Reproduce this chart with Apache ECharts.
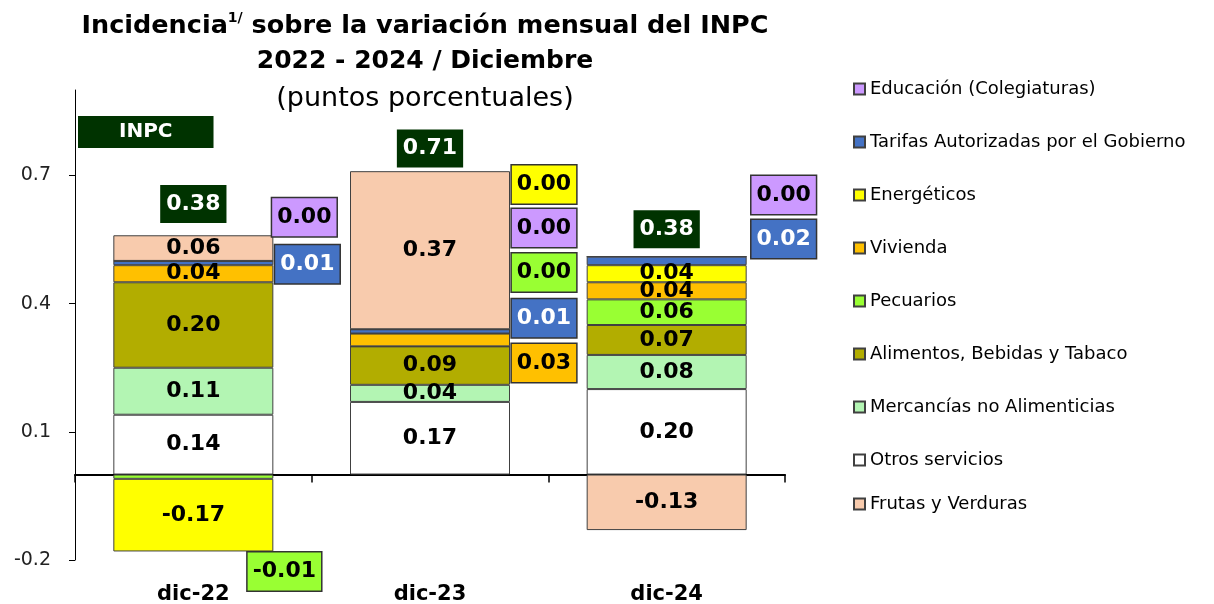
<!DOCTYPE html>
<html>
<head>
<meta charset="utf-8">
<script src="https://cdn.jsdelivr.net/npm/echarts@6.0.0/dist/echarts.min.js"></script>
<style>
  html, body { margin: 0; padding: 0; background: #fff; }
  #chart { width: 1214px; height: 604px; }
</style>
</head>
<body>
<div id="chart"></div>
<script>
// datos (puntos porcentuales)
const categories = ["dic-22", "dic-23", "dic-24"];
const otrosServicios = [0.14, 0.17, 0.20];
const mercancias = [0.11, 0.04, 0.08];
const alimentos = [0.20, 0.09, 0.07];
const pecuarios = [-0.01, 0.00, 0.06];
const vivienda = [0.04, 0.03, 0.04];
const energeticos = [-0.17, 0.00, 0.04];
const tarifas = [0.01, 0.01, 0.02];
const educacion = [0.00, 0.00, 0.00];
const frutasVerduras = [0.06, 0.37, -0.13];
const inpc = [0.38, 0.71, 0.38];
const yTicks = [-0.2, 0.1, 0.4, 0.7];

const FONT = "DejaVu Sans";

// orden de apilado (de abajo hacia arriba)
const seriesDefs = [
  ["Otros servicios", otrosServicios, "#FFFFFF"],
  ["Mercancías no Alimenticias", mercancias, "#B3F5B3"],
  ["Alimentos, Bebidas y Tabaco", alimentos, "#B2AD00"],
  ["Pecuarios", pecuarios, "#99FF33"],
  ["Vivienda", vivienda, "#FFC000"],
  ["Energéticos", energeticos, "#FFFF00"],
  ["Tarifas Autorizadas por el Gobierno", tarifas, "#4472C4"],
  ["Educación (Colegiaturas)", educacion, "#CC99FF"],
  ["Frutas y Verduras", frutasVerduras, "#F8CBAD"],
];

// etiquetas fuera de la barra: [serie, categoria, altura del recuadro, desplazamiento x]
const callouts = [
  ["Educación (Colegiaturas)", 0, 0.602, 111],
  ["Tarifas Autorizadas por el Gobierno", 0, 0.492, 114],
  ["Pecuarios", 0, -0.227, 91],
  ["Energéticos", 1, 0.679, 114],
  ["Educación (Colegiaturas)", 1, 0.577, 114],
  ["Pecuarios", 1, 0.473, 114],
  ["Tarifas Autorizadas por el Gobierno", 1, 0.366, 114],
  ["Vivienda", 1, 0.261, 114],
  ["Educación (Colegiaturas)", 2, 0.654, 117],
  ["Tarifas Autorizadas por el Gobierno", 2, 0.551, 117],
];
// altura de los recuadros del INPC
const inpcLabelY = [0.633, 0.763, 0.574];

// leyenda: de arriba hacia abajo como en la lámina
const legendOrder = seriesDefs.slice(0, 8).map((d) => d[0]).reverse();
legendOrder.push(seriesDefs[8][0]);

const fmt = (v) => v.toFixed(2);
const isCallout = (name, i) => callouts.some((c) => c[0] === name && c[1] === i);

const series = seriesDefs.map(([name, values, color]) => ({
  name: name,
  type: "bar",
  stack: "inc",
  barWidth: 160,
  itemStyle: { color: color, borderColor: "#404040", borderWidth: 1 },
  label: {
    show: true,
    position: "inside",
    fontFamily: FONT,
    fontWeight: "bold",
    fontSize: 22,
    color: "#000",
    formatter: (p) => fmt(p.value),
  },
  data: values.map((v, i) => ({
    value: v,
    label: { show: !isCallout(name, i) },
  })),
}));

const colorOf = {};
const valuesOf = {};
seriesDefs.forEach(([n, v, c]) => { colorOf[n] = c; valuesOf[n] = v; });

series.push({
  name: "callouts",
  type: "scatter",
  symbolSize: 0.1,
  itemStyle: { color: "transparent", opacity: 1 },
  silent: true,
  clip: false,
  z: 10,
  label: {
    show: true,
    position: "inside",
    fontFamily: FONT,
    fontWeight: "bold",
    fontSize: 22,
    lineHeight: 26,
    padding: [6, 5],
    borderColor: "#333",
    borderWidth: 1.5,
    formatter: (p) => p.data.text,
  },
  data: callouts.map(([name, ci, y, dx]) => ({
    value: [ci, y],
    text: fmt(valuesOf[name][ci]),
    label: {
      offset: [dx, 0],
      backgroundColor: colorOf[name],
      color: name.startsWith("Tarifas") ? "#fff" : "#000",
    },
  })),
});

series.push({
  name: "inpc",
  type: "scatter",
  symbolSize: 0.1,
  itemStyle: { color: "transparent", opacity: 1 },
  silent: true,
  clip: false,
  z: 10,
  label: {
    show: true,
    position: "inside",
    fontFamily: FONT,
    fontWeight: "bold",
    fontSize: 22,
    lineHeight: 26,
    padding: [6, 6],
    color: "#fff",
    backgroundColor: "#003300",
    formatter: (p) => p.data.text,
  },
  data: inpc.map((v, i) => ({ value: [i, inpcLabelY[i]], text: fmt(v) })),
});

const chart = echarts.init(document.getElementById("chart"), null, { renderer: "canvas" });

const legendBase = {
  orient: "vertical",
  left: 853,
  padding: 0,
  icon: "rect",
  itemWidth: 11,
  itemHeight: 11,
  itemGap: 33,
  selectedMode: false,
  textStyle: { fontFamily: FONT, fontSize: 18, lineHeight: 20, color: "#000" },
};

chart.setOption({
  animation: false,
  backgroundColor: "#fff",
  title: [
    {
      text: "{b|Incidencia}{s|1/}{b| sobre la variación mensual del INPC}",
      left: 420,
      top: 6,
      textAlign: "center",
      textStyle: {
        rich: {
          b: { fontFamily: FONT, fontWeight: "bold", fontSize: 25.5, color: "#000", lineHeight: 30 },
          s: { fontFamily: FONT, fontWeight: "bold", fontSize: 14, color: "#000", verticalAlign: "top", lineHeight: 30 },
        },
      },
    },
    {
      text: "2022 - 2024 / Diciembre",
      left: 420,
      top: 44,
      textAlign: "center",
      textStyle: { fontFamily: FONT, fontWeight: "bold", fontSize: 25, color: "#000" },
    },
    {
      text: "(puntos porcentuales)",
      left: 420,
      top: 80,
      textAlign: "center",
      textStyle: { fontFamily: FONT, fontWeight: "normal", fontSize: 27, color: "#000" },
    },
    {
      text: "INPC",
      left: 78,
      top: 116,
      padding: [4, 41],
      backgroundColor: "#003300",
      textStyle: { fontFamily: FONT, fontWeight: "bold", fontSize: 20, lineHeight: 24, color: "#fff" },
    },
  ],
  legend: [
    Object.assign({}, legendBase, { top: 79, data: legendOrder.slice(0, 8) }),
    Object.assign({}, legendBase, { top: 494, data: legendOrder.slice(8) }),
  ],
  grid: { left: 75, right: 429, top: 90, bottom: 44, containLabel: false, outerBoundsMode: "none" },
  xAxis: [
    {
      type: "category",
      data: categories,
      axisLine: { onZero: true, lineStyle: { color: "#000", width: 2 } },
      axisTick: { show: true, length: 8, lineStyle: { color: "#000", width: 1.5 } },
      axisLabel: { show: false },
    },
    {
      // solo para los rótulos de abajo
      type: "category",
      data: categories,
      position: "bottom",
      axisLine: { show: false, onZero: false },
      axisTick: { show: false },
      axisLabel: {
        margin: 24,
        fontFamily: FONT,
        fontWeight: "bold",
        fontSize: 21,
        color: "#000",
      },
    },
  ],
  yAxis: {
    type: "value",
    min: -0.2,
    max: 0.9,
    splitLine: { show: false },
    axisLine: { show: true, lineStyle: { color: "#000", width: 1 } },
    axisTick: { show: true, length: 6, customValues: yTicks, lineStyle: { color: "#000" } },
    axisLabel: {
      customValues: yTicks,
      margin: 24,
      fontFamily: FONT,
      fontSize: 19,
      color: "#222",
      formatter: (v) => String(Math.round(v * 10) / 10),
    },
  },
  series: series,
});
</script>
</body>
</html>
